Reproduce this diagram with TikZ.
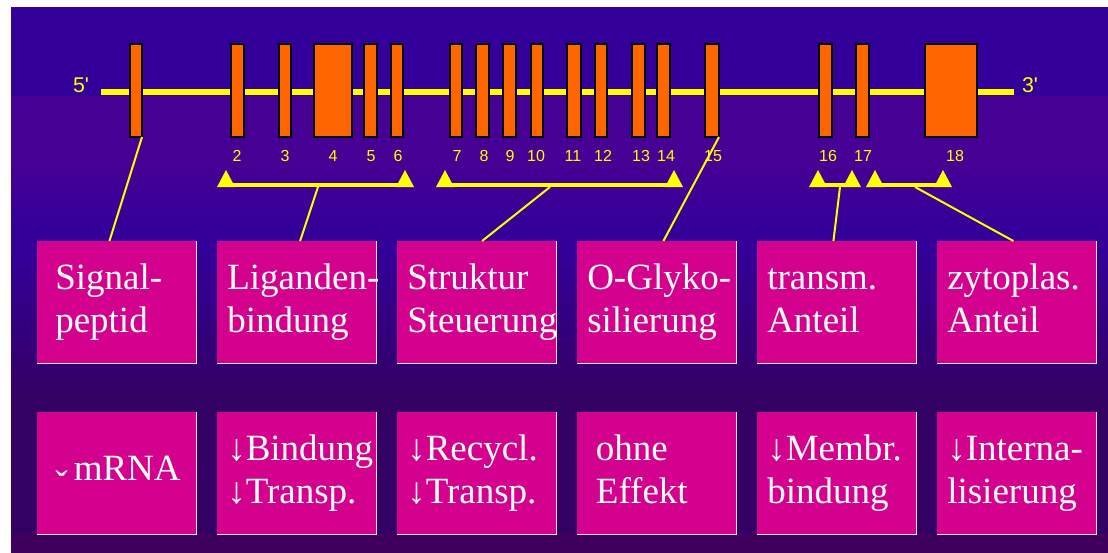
\documentclass[tikz,border=0pt]{standalone}
\usepackage{fontspec}
\setmainfont{Liberation Serif}
\newfontfamily\labelfont{Liberation Sans}
\usetikzlibrary{positioning}

\definecolor{bgblue}{RGB}{51,0,153}
\definecolor{bgpurple}{RGB}{70,0,148}
\definecolor{bgdark}{RGB}{51,0,100}
\definecolor{bgfloor}{RGB}{62,0,92}
\definecolor{exonorange}{RGB}{255,102,0}
\definecolor{geneyellow}{RGB}{255,255,0}
\definecolor{boxmagenta}{RGB}{212,0,142}
\definecolor{boxrim}{RGB}{255,225,245}

% no breaks inside the box words
\newcommand\keepwords{\hyphenpenalty=10000 \exhyphenpenalty=10000\relax}

\tikzset{
  exon/.style={fill=exonorange, draw=black, line width=1pt},
  strand/.style={geneyellow, line width=4.5pt},
  bracket/.style={geneyellow, line width=3pt},
  link/.style={geneyellow, line width=1.5pt},
  num/.style={text=geneyellow, inner sep=0pt, font=\labelfont\fontsize{12}{12}\selectfont},
  endlabel/.style={text=geneyellow, inner sep=0pt, font=\labelfont\fontsize{16}{16}\selectfont},
  box/.style={fill=boxmagenta, text=white, anchor=north west, align=left,
    text width=104.25pt, inner xsep=7.5pt, inner ysep=0pt, minimum height=91.5pt,
    font=\fontsize{27.75}{32.25}\selectfont,
    execute at begin node=\keepwords\strut, execute at end node=\strut},
  indent/.style={inner xsep=13.5pt, text width=92.25pt},
  rim/.style={boxrim, line width=1.1pt}
}

\begin{document}
\begin{tikzpicture}[x=0.75pt,y=-0.75pt]
  \useasboundingbox (0,0) rectangle (1108,553);
  % backdrop
  \fill[white] (0,0) rectangle (1108,553);
  \fill[bgblue] (11,7) rectangle (1108,553);
  \fill[bgpurple] (11,96) rectangle (1108,165);
  \shade[top color=bgpurple, bottom color=bgblue] (11,165) rectangle (1108,228);
  \shade[top color=bgblue, bottom color=bgdark] (11,250) rectangle (1108,400);
  \fill[bgdark] (11,400) rectangle (1108,534);
  \fill[bgfloor] (11,534) rectangle (1108,553);

  % gene with its exons
  \draw[strand] (101,92) -- (1014,92);
  \node[endlabel] (five) at (81,85) {5'};
  \node[endlabel] (three) at (1030,85) {3'};
  \foreach \a/\b/\n in {130/142/1, 231/244/2, 279/291/3, 314/352/4, 364/377/5,
      391/403/6, 450/462/7, 476/489/8, 503/516/9, 531/543/10, 567/581/11,
      595/607/12, 632/645/13, 657/670/14, 705/719/15, 819/832/16, 856/869/17,
      925/977/18}{
    \draw[exon] (\a,44) rectangle (\b,137);
    \coordinate (e\n) at (\b,137);
  }
  \foreach \x/\n in {237/2, 285/3, 333/4, 371/5, 398/6, 457/7, 484/8, 510/9,
      536/10, 573/11, 603/12, 641/13, 666/14, 713/15, 828/16, 863/17, 955/18}
    \node[num] (n\n) at (\x,156) {\n};

  % domain brackets
  \foreach \a/\b/\m/\n in {226/405/318/1, 445/674/550/2, 818/852/840/3, 875/943/915/4}{
    \draw[bracket] (\a,185) -- (\b,185);
    \fill[geneyellow] (\a-9,187) -- (\a,170) -- (\a+9,187) -- cycle;
    \fill[geneyellow] (\b-9,187) -- (\b,170) -- (\b+9,187) -- cycle;
    \coordinate (b\n) at (\m,187);
  }

  % domains
  \node[box,indent] (sig) at (37,241) {Signal-\\peptid};
  \node[box] (lig) at (217,241) {Liganden-\\bindung};
  \node[box] (strukt) at (397,241) {Struktur\\Steuerung};
  \node[box] (glyko) at (577,241) {O-Glyko-\\silierung};
  \node[box] (transm) at (757,241) {transm.\\Anteil};
  \node[box] (zyto) at (937,241) {zytoplas.\\Anteil};

  % effects
  \node[box,indent] (mrna) at (37,412) {\raisebox{-0.42em}{ˇ}\,mRNA};
  \node[box] (bind) at (217,412) {↓Bindung\\↓Transp.};
  \node[box] (recyc) at (397,412) {↓Recycl.\\↓Transp.};
  \node[box,inner xsep=14pt,text width=91.25pt] (ohne) at (577,412) {ohne\\Effekt};
  \node[box] (membr) at (757,412) {↓Membr.\\bindung};
  \node[box] (intern) at (937,412) {↓Interna-\\lisierung};

  \foreach \n in {sig, lig, strukt, glyko, transm, zyto, mrna, bind, recyc, ohne, membr, intern}
    \draw[rim] (\n.north east) -- (\n.south east) -- (\n.south west);

  \draw[link] (e1) -- ([xshift=-5.5pt]sig.north);
  \draw[link] (b1) -- ([xshift=2.5pt]lig.north);
  \draw[link] (b2) -- ([xshift=4pt]strukt.north);
  \draw[link] (e15) -- ([xshift=5pt]glyko.north);
  \draw[link] (b3) -- ([xshift=-2.5pt]transm.north);
  \draw[link] (b4) -- ([xshift=-2.5pt]zyto.north);
\end{tikzpicture}
\end{document}
